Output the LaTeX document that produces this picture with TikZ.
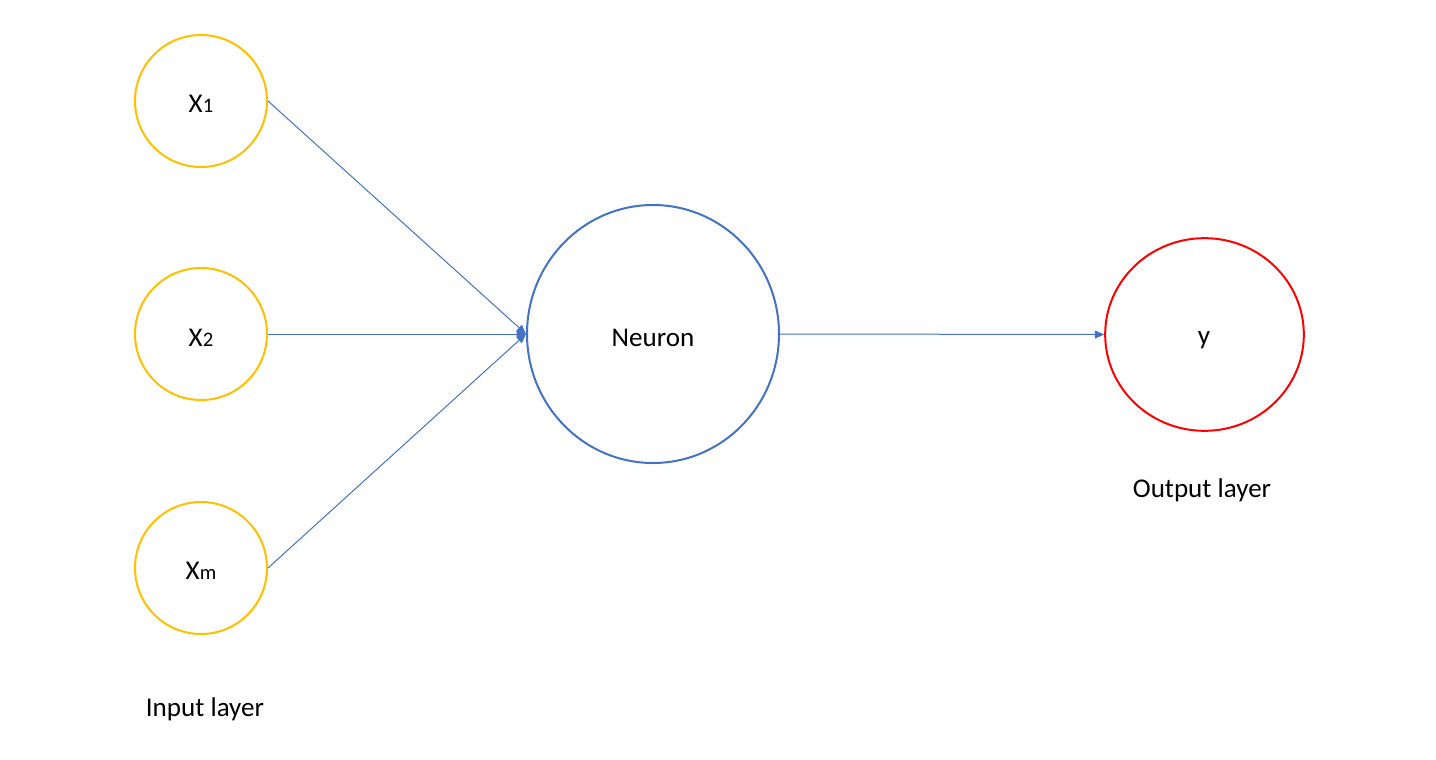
\documentclass[tikz,border=0pt]{standalone}
\usepackage{fontspec}
\setmainfont{Carlito}
\usetikzlibrary{arrows.meta}
\definecolor{inyel}{HTML}{FFC000}
\definecolor{neublue}{HTML}{4472C4}
\definecolor{outred}{HTML}{FF0000}
\newcommand{\sm}[1]{{\fontsize{15.5pt}{17pt}\selectfont #1}}
\tikzset{
  inputnode/.style={circle, draw=inyel, line width=1.5pt, minimum size=99pt, inner sep=0pt, font=\fontsize{20.3pt}{23pt}\selectfont},
  neuronnode/.style={ellipse, draw=neublue, line width=1.5pt, minimum width=189pt, minimum height=193.5pt, inner sep=0pt, font=\fontsize{20.3pt}{23pt}\selectfont},
  outnode/.style={ellipse, draw=outred, line width=1.5pt, minimum width=149pt, minimum height=144.5pt, inner sep=0pt, font=\fontsize{20.3pt}{23pt}\selectfont},
  conn/.style={draw=neublue, line width=0.75pt, -{Triangle[length=7pt, width=6pt]}},
  lbl/.style={font=\fontsize{20.3pt}{23pt}\selectfont, inner sep=0pt}
}
\usetikzlibrary{shapes.geometric}
\begin{document}
\begin{tikzpicture}[x=0.75pt, y=-0.75pt]
\useasboundingbox[fill=white] (0,0) rectangle (1436,760);
\node[inputnode] (x1) at (201,101) {};
\node[inputnode] (x2) at (201,334) {};
\node[inputnode] (xm) at (201,568) {};
\node[lbl] (tx1) at (201,104) {X\sm{1}};
\node[lbl] (tx2) at (201,338) {X\sm{2}};
\node[lbl] (txm) at (201,571) {X\sm{m}};
\node[neuronnode] (neu) at (653,334) {};
\node[lbl] (tneu) at (653,338) {Neuron};
\node[lbl] (ty) at (1204,340) {y};
\node[outnode] (out) at (1204.5,334.5) {};
\node[lbl] (inl) at (205,709) {Input layer};
\node[lbl] (outl) at (1202,490) {Output layer};
\draw[conn] (x1.east) -- (neu.west);
\draw[conn] (x2.east) -- (neu.west);
\draw[conn] (xm.east) -- (neu.west);
\draw[conn] (neu.east) -- (out.west);
\end{tikzpicture}
\end{document}
